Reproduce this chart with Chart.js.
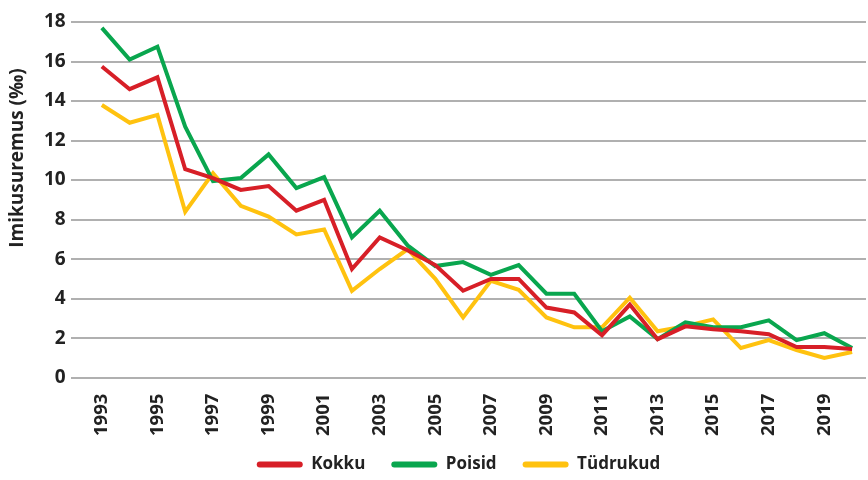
<!DOCTYPE html>
<html>
<head>
<meta charset="utf-8">
<script src="https://cdn.jsdelivr.net/npm/chart.js@4"></script>
<style>
  body { margin: 0; background: #fff; }
  #wrap { width: 868px; height: 480px; }
</style>
</head>
<body>
<div id="wrap"><canvas id="chart"></canvas></div>
<script>
const years = [1993,1994,1995,1996,1997,1998,1999,2000,2001,2002,2003,2004,2005,2006,2007,2008,2009,2010,2011,2012,2013,2014,2015,2016,2017,2018,2019,2020];
const kokku    = [15.75,14.6,15.2,10.55,10.1,9.5,9.7,8.45,9.0,5.5,7.1,6.45,5.7,4.4,5.0,5.0,3.55,3.3,2.15,3.7,1.95,2.6,2.45,2.35,2.2,1.55,1.55,1.45];
const poisid   = [17.7,16.1,16.75,12.7,9.95,10.1,11.3,9.6,10.15,7.1,8.45,6.7,5.65,5.85,5.2,5.7,4.25,4.25,2.35,3.1,1.95,2.8,2.55,2.55,2.9,1.9,2.25,1.5];
const tudrukud = [13.8,12.9,13.3,8.4,10.35,8.7,8.15,7.25,7.5,4.4,5.5,6.5,5.0,3.05,4.9,4.45,3.05,2.55,2.55,4.05,2.35,2.6,2.95,1.5,1.9,1.4,1.0,1.3];
const yearTicks = [1993,1995,1997,1999,2001,2003,2005,2007,2009,2011,2013,2015,2017,2019];
const yTicks = [0,2,4,6,8,10,12,14,16,18];
const yTitle = 'Imikusuremus (‰)';

const font = "'Open Sans', 'Noto Sans', sans-serif";

function series(label, values, color) {
  return {
    label: label,
    data: years.map((y, i) => ({ x: y, y: values[i] })),
    borderColor: color,
    backgroundColor: color,
    borderWidth: 4,
    pointRadius: 0,
    tension: 0,
    borderJoinStyle: 'miter'
  };
}

// legend: smaller box, nudged up to sit under the plot
const legendTweak = {
  id: 'legendTweak',
  beforeUpdate(chart) {
    const lg = chart.legend;
    if (lg && !lg._patched) {
      const fit = lg.fit;
      lg.fit = function () {
        fit.call(this);
        this.height = 36;
      };
      lg._patched = true;
    }
  },
  afterLayout(chart) {
    const lg = chart.legend;
    lg.left += 6;
    lg.right += 6;
    lg.top -= 14;
    lg.adjustHitBoxes();
  }
};

// y axis title, sits above the middle like in the original
const yTitlePlugin = {
  id: 'yTitlePlugin',
  afterDraw(chart) {
    const ctx = chart.ctx;
    ctx.save();
    ctx.translate(18, chart.chartArea.top + 136);
    ctx.rotate(-Math.PI / 2);
    ctx.font = 'bold 19px ' + font;
    ctx.fillStyle = '#222';
    ctx.textAlign = 'center';
    ctx.textBaseline = 'middle';
    ctx.fillText(yTitle, 0, 0);
    ctx.restore();
  }
};

new Chart(document.getElementById('chart'), {
  type: 'line',
  data: {
    datasets: [
      series('Kokku', kokku, '#d71f27'),
      series('Poisid', poisid, '#09a64e'),
      series('Tüdrukud', tudrukud, '#ffc20f')
    ]
  },
  plugins: [legendTweak, yTitlePlugin],
  options: {
    responsive: true,
    maintainAspectRatio: false,
    animation: false,
    layout: { padding: { top: 22, right: 2, left: 39, bottom: 0 } },
    plugins: {
      tooltip: { enabled: false },
      legend: {
        position: 'bottom',
        labels: {
          color: '#222',
          font: { family: font, size: 17, weight: 'bold' },
          boxWidth: 46,
          boxHeight: 6,
          useBorderRadius: true,
          borderRadius: 3,
          padding: 26,
          generateLabels(chart) {
            return Chart.defaults.plugins.legend.labels.generateLabels(chart)
              .map(l => Object.assign(l, { lineWidth: 0 }));
          }
        }
      }
    },
    scales: {
      x: {
        type: 'linear',
        min: 1991.88,
        max: 2020.5,
        afterBuildTicks(scale) {
          scale.ticks = yearTicks.map(v => ({ value: v }));
        },
        ticks: {
          autoSkip: false,
          minRotation: 90,
          maxRotation: 90,
          color: '#222',
          font: { family: font, size: 18.5, weight: 'bold' },
          callback: v => String(v),
          padding: 8
        },
        grid: { display: false },
        border: { display: false }
      },
      y: {
        min: 0,
        max: 18,
        afterBuildTicks(scale) {
          scale.ticks = yTicks.map(v => ({ value: v }));
        },
        ticks: {
          color: '#222',
          font: { family: font, size: 19, weight: 'bold' },
          padding: 5
        },
        grid: { color: '#b0b0b0', lineWidth: 2, drawTicks: false },
        border: { display: false }
      }
    }
  }
});
</script>
</body>
</html>
